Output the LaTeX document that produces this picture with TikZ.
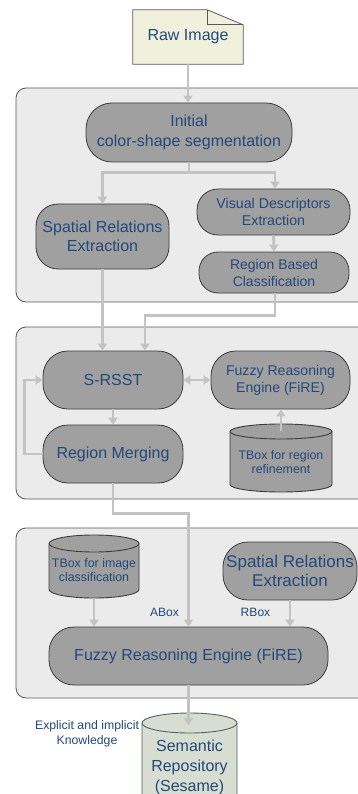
\documentclass[tikz,border=0pt]{standalone}
\usepackage{fontspec}
\setmainfont{Liberation Sans}
\usetikzlibrary{arrows.meta,calc}
\definecolor{panelfill}{HTML}{EBEBEB}
\definecolor{panelborder}{HTML}{5A5A5A}
\definecolor{nodefill}{HTML}{A0A0A0}
\definecolor{nodeborder}{HTML}{3C3C3C}
\definecolor{txt}{HTML}{24487A}
\definecolor{arrowc}{HTML}{C3C3C3}
\definecolor{notefill}{HTML}{EFF1DC}
\definecolor{semfill}{HTML}{D8DDD2}
\definecolor{semborder}{HTML}{55635A}
\newcommand\fsz[2]{\fontsize{#1}{#2}\selectfont}
\newcommand\drawcyl[7]{%
  \path[draw=#7, fill=#6, line width=0.9pt]
  (#1,{#3+#5}) -- (#1,{#4-#5})
  .. controls (#1,{#4-#5+0.5523*#5}) and ({(#1+#2)/2-0.5523*(#2-#1)/2},#4) .. ({(#1+#2)/2},#4)
  .. controls ({(#1+#2)/2+0.5523*(#2-#1)/2},#4) and (#2,{#4-#5+0.5523*#5}) .. (#2,{#4-#5})
  -- (#2,{#3+#5})
  .. controls (#2,{#3+#5-0.5523*#5}) and ({(#1+#2)/2+0.5523*(#2-#1)/2},#3) .. ({(#1+#2)/2},#3)
  .. controls ({(#1+#2)/2-0.5523*(#2-#1)/2},#3) and (#1,{#3+#5-0.5523*#5}) .. (#1,{#3+#5})
  -- cycle;
  \draw[#7, line width=0.9pt] (#1,{#3+#5})
  .. controls (#1,{#3+#5+0.5523*#5}) and ({(#1+#2)/2-0.5523*(#2-#1)/2},{#3+2*#5}) .. ({(#1+#2)/2},{#3+2*#5})
  .. controls ({(#1+#2)/2+0.5523*(#2-#1)/2},{#3+2*#5}) and (#2,{#3+#5+0.5523*#5}) .. (#2,{#3+#5});
}
\tikzset{
  panel/.style={draw=panelborder, fill=panelfill, line width=0.8pt, rounded corners=10pt},
  proc/.style={draw=nodeborder, fill=nodefill, line width=0.8pt, rounded corners=#1,
    text=txt, align=center, inner sep=0pt},
  proc/.default=25pt,
  lbl/.style={text=txt, align=center, inner sep=0pt},
  conn/.style={draw=arrowc, line width=2.8pt, -{Triangle[width=9pt,length=7pt]}},
  conn2/.style={draw=arrowc, line width=2.8pt, {Triangle[width=9pt,length=7pt]}-{Triangle[width=9pt,length=7pt]}},
}
\begin{document}
\begin{tikzpicture}[x=1pt,y=-1pt]
\clip (0,0) rectangle (358,794);
\fill[white] (0,0) rectangle (358,794);
% panels
\path[panel] (16,88) rectangle (368,302);
\path[panel] (16,327) rectangle (368,499);
\path[panel] (16,528) rectangle (368,698);

% raw image note
\node[lbl, minimum width=110pt, minimum height=54pt, font=\fsz{16}{19.5}] (raw) at (188,37) {};
\path[draw=panelborder, fill=notefill, line width=0.8pt]
  (raw.north west) -- ([xshift=-36pt]raw.north east) -- ([yshift=-15pt]raw.north east)
  -- (raw.south east) -- (raw.south west) -- cycle;
\draw[panelborder, line width=0.8pt] ([xshift=-36pt]raw.north east) -- ++(0,15) -- ([yshift=-15pt]raw.north east);
\node[lbl, font=\fsz{16}{19.5}] (rawtext) at (raw) {Raw Image};

% panel 1
\node[proc=26pt, minimum width=206pt, minimum height=59pt, font=\fsz{16}{19.5}] (init) at (189,132.5)
  {Initial\\color-shape segmentation};
\node[proc=22pt, minimum width=133pt, minimum height=65pt, font=\fsz{16}{19.5}] (spat1) at (102.5,236.5)
  {Spatial Relations\\Extraction};
\node[proc=21pt, minimum width=153pt, minimum height=46pt, font=\fsz{14.2}{17}] (vis) at (273.5,212)
  {Visual Descriptors\\Extraction};
\node[proc=19pt, minimum width=150pt, minimum height=41pt, font=\fsz{14}{17}] (rbc) at (274,272.5)
  {Region Based\\Classification};

% panel 2
\node[proc=25pt, minimum width=140pt, minimum height=58pt, font=\fsz{16}{19.5}] (srsst) at (113,380) {S-RSST};
\node[proc=25pt, minimum width=139pt, minimum height=58pt, font=\fsz{14.1}{17}] (fire1) at (280.5,380)
  {Fuzzy Reasoning\\Engine (FiRE)};
\node[proc=25pt, minimum width=140pt, minimum height=58pt, font=\fsz{16}{19.5}] (rm) at (113,454) {Region Merging};
\drawcyl{230}{332}{424}{492}{7.5}{nodefill}{nodeborder}
\node[lbl, font=\fsz{12.4}{14.5}] (tbr) at (281,462) {TBox for region\\refinement};
\coordinate (tbrtop) at (281,431);

% panel 3
\drawcyl{49}{139}{535}{598}{8.5}{nodefill}{nodeborder}
\node[lbl, font=\fsz{12.4}{14.5}] (tbi) at (94,570) {TBox for image\\classification};
\coordinate (tbibot) at (94,598);
\node[proc=25pt, minimum width=134pt, minimum height=58pt, font=\fsz{17}{19.5}] (spat2) at (290,571)
  {Spatial Relations\\Extraction};
\node[proc=25pt, minimum width=279pt, minimum height=58pt, font=\fsz{16}{19.5}] (fire2) at (188.5,656)
  {Fuzzy Reasoning Engine (FiRE)};
\node[lbl, font=\fsz{12.1}{14}] (abox) at (164.5,612) {ABox};
\node[lbl, font=\fsz{12.1}{14}] (rbox) at (255.5,612) {RBox};

% repository
\drawcyl{142}{237}{713}{812}{10}{semfill}{semborder}
\node[lbl, font=\fsz{16}{20}] (sem) at (189.5,767.5) {Semantic\\Repository\\(Sesame)};
\coordinate (semtop) at (188.5,725);
\node[lbl, font=\fsz{12.3}{15}] (expl) at (87,734) {Explicit and implicit\\Knowledge};

% connectors
\draw[conn] (raw.south) -- (raw.south |- init.north);
\draw[conn] (init.south) -- ++(0,10) coordinate (split) -| (spat1.north);
\draw[conn] (split) -| ([xshift=1.5pt]vis.north);
\draw[conn] (vis.south) -- (rbc.north);
\draw[conn] (spat1.south) -- (spat1.south |- srsst.north);
\draw[conn] ([xshift=1pt]rbc.south) -- ++(0,22) -| ([xshift=32pt]srsst.north);
\draw[conn2] (srsst.east) -- (fire1.west);
\draw[conn] (srsst.south) -- (rm.north);
\draw[conn] (rm.west) -- ++(-18,0) |- (srsst.west);
\draw[conn] (tbrtop) -- (tbrtop |- fire1.south);
\draw[conn] (rm.south) -- ++(0,30) -| (fire2.north);
\draw[conn] (tbibot) -- (tbibot |- fire2.north);
\draw[conn] (spat2.south) -- (spat2.south |- fire2.north);
\draw[conn] (fire2.south) -- (semtop);
\end{tikzpicture}
\end{document}
